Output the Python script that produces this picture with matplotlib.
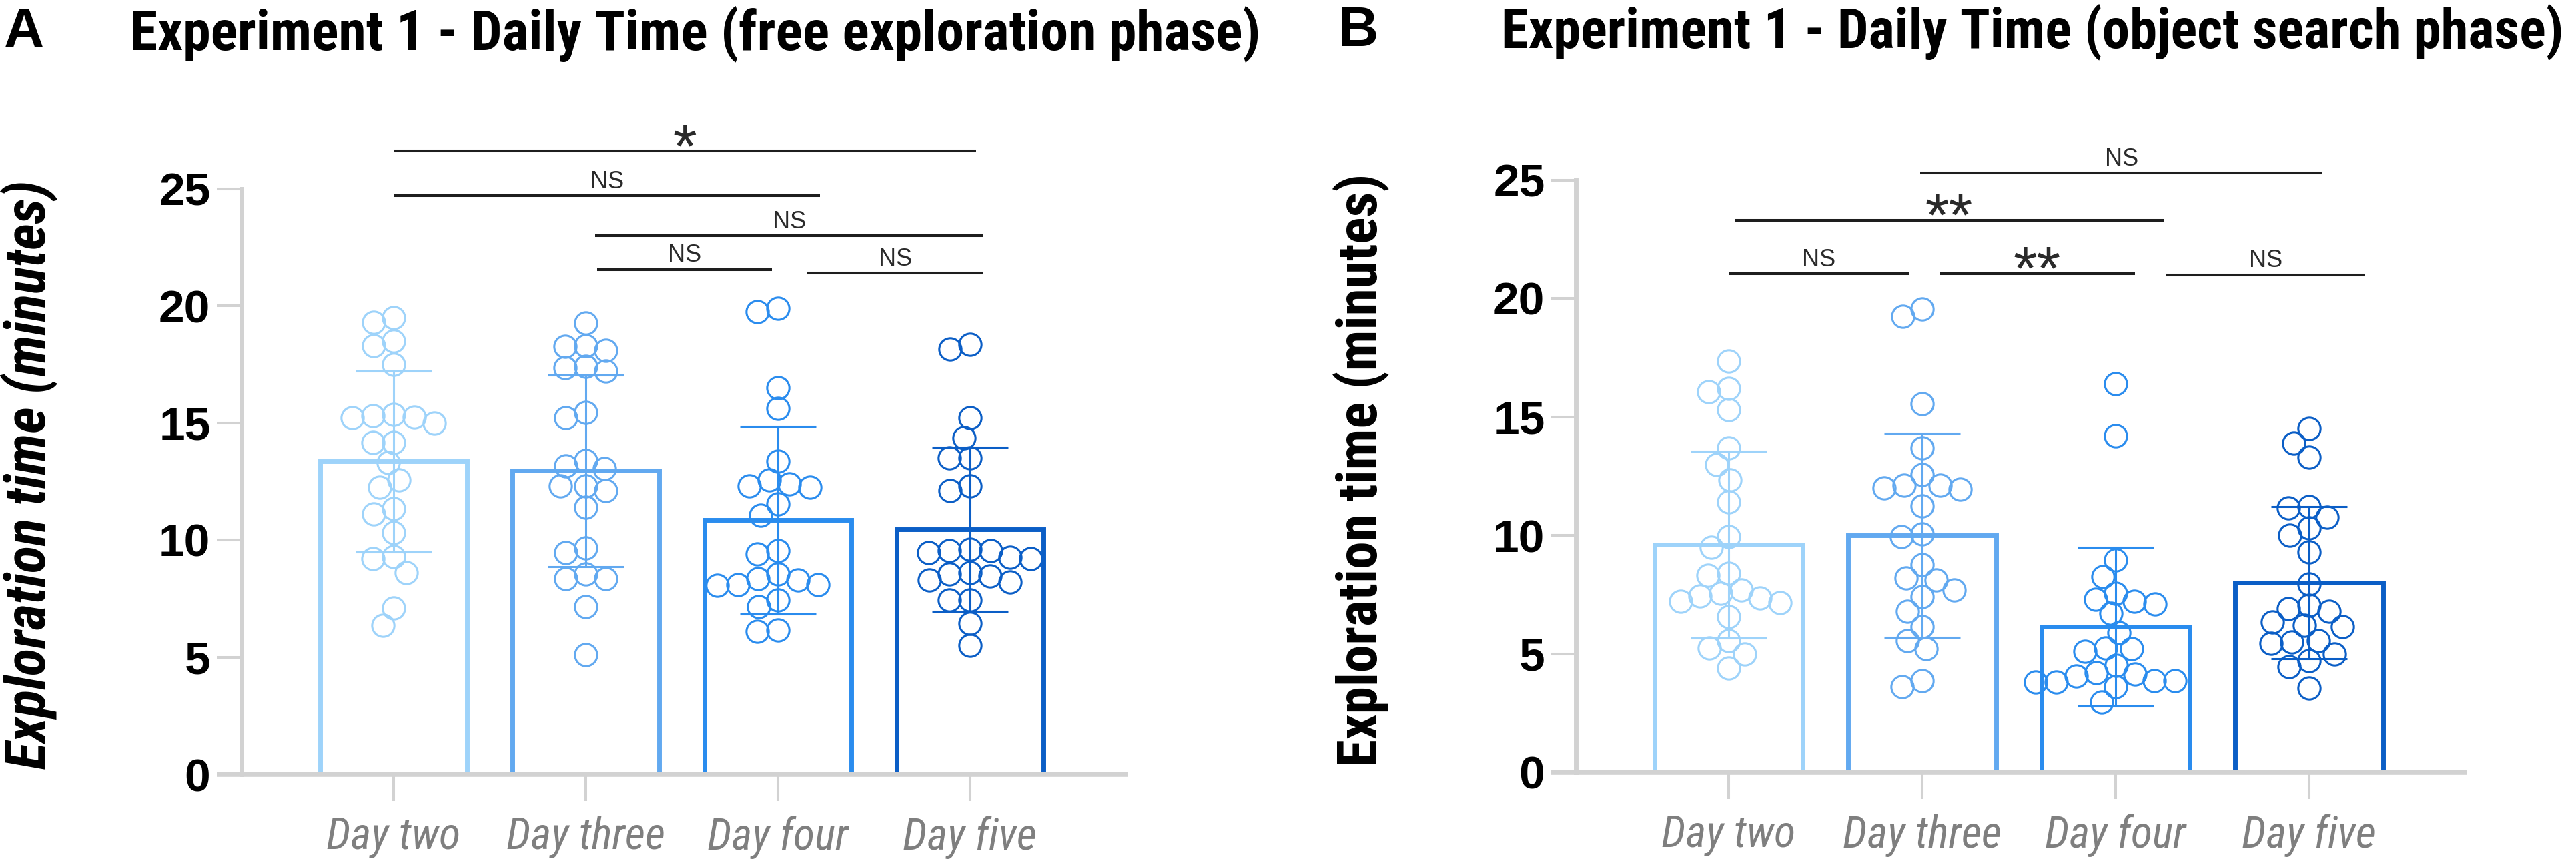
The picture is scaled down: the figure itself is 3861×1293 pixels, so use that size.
import numpy as np
import matplotlib
matplotlib.use("Agg")
import matplotlib.pyplot as plt
from matplotlib import font_manager

# values (minutes)
days = ["Day two", "Day three", "Day four", "Day five"]

free_day2 = [19.5, 19.3, 18.3, 18.5, 17.5, 15.35, 15.3, 15.25, 15.0, 15.2, 14.15, 14.15,
             13.3, 12.55, 12.25, 11.35, 11.1, 10.3, 9.3, 9.2, 8.6, 7.1, 6.35]
free_day3 = [19.25, 18.1, 18.25, 18.3, 17.35, 17.2, 17.4, 15.45, 15.2, 13.4, 13.05, 13.15,
             12.3, 12.1, 12.3, 11.4, 9.45, 9.65, 8.55, 8.35, 8.35, 7.15, 5.1]
free_day4 = [19.9, 19.75, 16.5, 15.6, 13.35, 12.4, 12.3, 12.55, 12.25, 11.55, 11.05, 9.55,
             9.4, 8.55, 8.35, 8.05, 8.1, 8.3, 8.1, 7.45, 7.15, 6.15, 6.1]
free_day5 = [18.35, 18.15, 15.2, 14.35, 13.5, 13.5, 12.3, 12.1, 9.55, 9.45, 9.2, 9.6,
             9.25, 9.55, 8.2, 8.3, 8.6, 8.55, 8.45, 7.45, 7.45, 6.45, 5.5]
free_mean = [13.35, 12.95, 10.85, 10.45]
free_sd = [3.85, 4.1, 4.0, 3.5]

search_day2 = [17.35, 16.05, 16.2, 15.3, 13.7, 13.0, 12.35, 11.4, 9.95, 9.5, 8.3, 8.4,
               7.55, 7.45, 7.7, 7.15, 6.55, 7.35, 7.2, 5.55, 5.25, 5.0, 4.4]
search_day3 = [19.55, 19.25, 15.55, 13.7, 12.1, 12.1, 12.0, 11.95, 12.55, 11.25, 9.95, 10.05,
               8.75, 8.2, 8.1, 7.7, 7.4, 6.8, 6.15, 5.55, 5.2, 3.85, 3.6]
search_day4 = [16.4, 14.2, 8.95, 8.25, 7.3, 7.2, 7.1, 7.55, 6.7, 5.9, 5.2, 5.1,
               5.25, 3.8, 3.85, 3.8, 3.85, 4.5, 4.2, 4.15, 3.6, 4.05, 2.95]
search_day5 = [14.5, 13.9, 13.3, 11.2, 11.15, 10.75, 10.3, 10.0, 9.3, 7.95, 6.9, 6.8,
               7.05, 6.35, 6.2, 6.15, 5.55, 5.45, 5.0, 5.5, 4.7, 4.45, 3.55]
search_mean = [9.6, 10.0, 6.15, 8.0]
search_sd = [3.95, 4.3, 3.35, 3.2]

# comparison brackets: (from, to, height, label)
free_sig = [(0.0, 3.03, 26.6, "*"), (0.0, 2.22, 24.7, "NS"), (1.05, 3.07, 23.0, "NS"),
            (1.06, 1.97, 21.55, "NS"), (2.15, 3.07, 21.4, "NS")]
search_sig = [(0.99, 3.07, 25.3, "NS"), (0.03, 2.25, 23.3, "**"), (0.0, 0.93, 21.05, "NS"),
              (1.09, 2.10, 21.05, "**"), (2.26, 3.29, 21.0, "NS")]

colors = ["#9ED3FA", "#62A9F0", "#2A8CEE", "#0B5EC6"]
axis_grey = "#D2D2D2"

W, H = 3862, 1293
DPI = 100


def have_font(name):
    try:
        font_manager.findfont(font_manager.FontProperties(family=name), fallback_to_default=False)
        return True
    except Exception:
        return False


plain = "Liberation Sans"
narrow = plain
for cand in ["Liberation Sans Narrow", "Arial Narrow", "Roboto Condensed"]:
    if have_font(cand):
        narrow = cand
        break


def swarm(vals, ppx, ppy, d=31.0):
    # simple beeswarm in pixel space, returns x offsets in data units
    vals = np.asarray(vals, float)
    xs = np.zeros(len(vals))
    placed = []
    for i in np.argsort(-vals, kind="stable"):
        y = vals[i] * ppy
        cands = [0.0]
        for px, py in placed:
            dy = abs(py - y)
            if dy < d:
                dx = np.sqrt(d * d - dy * dy)
                cands += [px - dx, px + dx]
        cands.sort(key=abs)
        for c in cands:
            if all((c - px) ** 2 + (y - py) ** 2 >= d * d - 1e-6 for px, py in placed):
                xs[i] = c
                break
        placed.append((xs[i], y))
    return xs / ppx


def fit(t, target, use_height=False):
    # scale the font so the text covers the measured length in the reference
    bb = t.get_window_extent(renderer=fig.canvas.get_renderer())
    cur = bb.height if use_height else bb.width
    t.set_fontsize(t.get_fontsize() * target / cur)


def panel(rect_px, xlim, groups, means, sds, sig):
    l, r, y0, y25 = rect_px
    ax = fig.add_axes([l / W, (H - y0) / H, (r - l) / W, (y0 - y25) / H])
    ax.set_xlim(*xlim)
    ax.set_ylim(0, 25)
    ppx = (r - l) / (xlim[1] - xlim[0])
    ppy = (y0 - y25) / 25.0
    x = np.arange(len(days))

    ax.bar(x, means, width=0.765, fill=False, edgecolor=colors, linewidth=5, zorder=2)
    for i in range(len(days)):
        ax.errorbar(x[i], means[i], yerr=sds[i], fmt="none", ecolor=colors[i],
                    elinewidth=2.2, capsize=41, capthick=2.2, zorder=3)
        off = swarm(groups[i], ppx, ppy)
        ax.plot(x[i] + off, groups[i], "o", ms=24, mfc="none", mec=colors[i],
                mew=2.2, zorder=4, clip_on=False)

    for s in ["top", "right", "bottom"]:
        ax.spines[s].set_visible(False)
    ax.spines["left"].set_color(axis_grey)
    ax.spines["left"].set_linewidth(5)
    ax.plot([-37 / (r - l), 1], [0, 0], transform=ax.transAxes, color=axis_grey,
            lw=5.5, solid_capstyle="butt", clip_on=False, zorder=5)

    ax.set_yticks([0, 5, 10, 15, 20, 25])
    ax.tick_params(axis="y", direction="out", length=26.5, width=2.9, color=axis_grey,
                   pad=7, labelsize=50)
    for t in ax.get_yticklabels():
        t.set_fontfamily(plain)
        t.set_fontweight("bold")
    ax.set_xticks(x)
    ax.set_xticklabels(days)
    ax.tick_params(axis="x", direction="out", length=29, width=2.9, color=axis_grey,
                   pad=16, labelsize=40, labelcolor="#7F7F7F")
    for t in ax.get_xticklabels():
        t.set_fontfamily(narrow)
        t.set_fontstyle("italic")

    for x0, x1, yv, lab in sig:
        ax.plot([x0, x1], [yv, yv], color="#1E1E1E", lw=2.9, clip_on=False,
                solid_capstyle="butt")
        if lab == "NS":
            ax.annotate(lab, ((x0 + x1) / 2, yv), xytext=(0, 8), textcoords="offset points",
                        ha="center", va="baseline", fontsize=26, family=plain,
                        color="#2A2A2A", annotation_clip=False)
        else:
            ax.annotate(lab, ((x0 + x1) / 2, yv), xytext=(0, -17), textcoords="offset points",
                        ha="center", va="baseline", fontsize=66, family=plain,
                        color="#2A2A2A", annotation_clip=False)
    return ax


fig = plt.figure(figsize=(W / DPI, H / DPI), dpi=DPI)

ax_a = panel((362, 1690, 1160, 282.5), (-0.792, 3.82),
             [free_day2, free_day3, free_day4, free_day5], free_mean, free_sd, free_sig)
ax_b = panel((2362, 3697, 1157, 269.5), (-0.790, 3.814),
             [search_day2, search_day3, search_day4, search_day5], search_mean, search_sd,
             search_sig)

fig.text(6 / W, 1 - 71 / H, "A", fontsize=60, fontweight="bold", family=plain, va="baseline")
ta = fig.text(195 / W, 1 - 75 / H, "Experiment 1 - Daily Time (free exploration phase)",
              fontsize=50, fontweight="bold", family=narrow, va="baseline")
fig.text(2005 / W, 1 - 69 / H, "B", fontsize=60, fontweight="bold", family=plain, va="baseline")
tb = fig.text(2250 / W, 1 - 71 / H, "Experiment 1 - Daily Time (object search phase)",
              fontsize=50, fontweight="bold", family=narrow, va="baseline")

la = fig.text(44 / W, 1 - 711 / H, "Exploration time (minutes)", rotation=90, ha="center",
              va="center", fontsize=50, fontweight="bold", fontstyle="italic", family=narrow)
lb = fig.text(2040 / W, 1 - 704 / H, "Exploration time (minutes)", rotation=90, ha="center",
              va="center", fontsize=50, fontweight="bold", family=narrow)

fig.canvas.draw()
fit(ta, 1695)
fit(tb, 1595)
fit(la, 884, use_height=True)
fit(lb, 889, use_height=True)
for ax in (ax_a, ax_b):
    lab0 = ax.get_xticklabels()[0]
    bb = lab0.get_window_extent(renderer=fig.canvas.get_renderer())
    ax.tick_params(axis="x", labelsize=40 * 201 / bb.width)

fig.savefig("out.png", dpi=DPI)
